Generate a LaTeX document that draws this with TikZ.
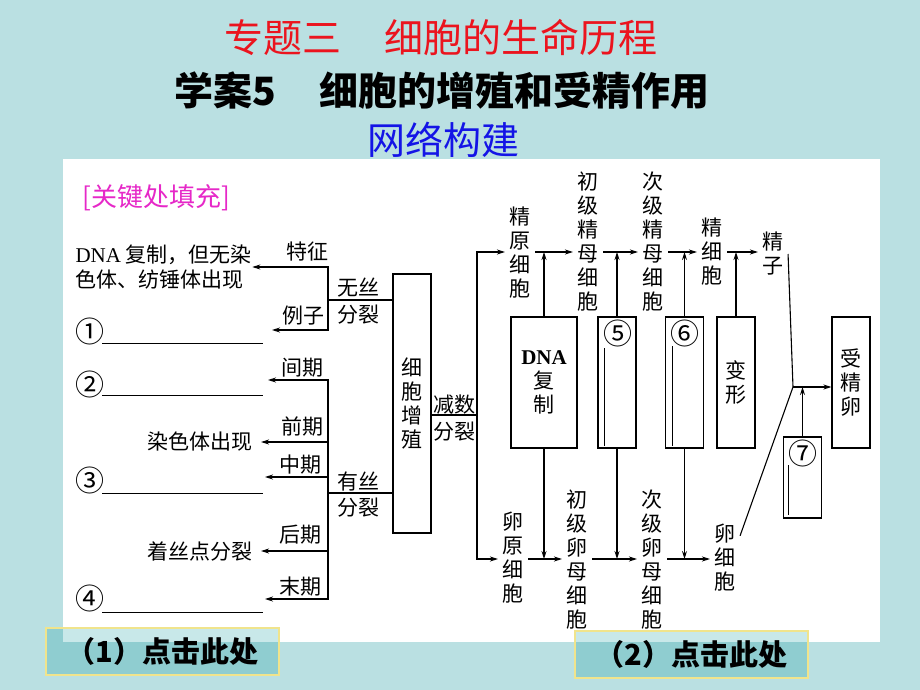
\documentclass[tikz,border=0pt]{standalone}
\usepackage{fontspec}
\setmainfont{Noto Sans CJK SC}
\newfontfamily\latinserif{Liberation Serif}
\usetikzlibrary{arrows.meta}
\definecolor{slidebg}{RGB}{186,224,226}
\definecolor{btnfill}{RGB}{143,205,208}
\definecolor{btnlight}{RGB}{200,232,233}
\definecolor{btnedge}{RGB}{240,228,140}
\definecolor{keypink}{RGB}{230,40,200}
\definecolor{titlered}{RGB}{235,20,30}
\definecolor{titleblue}{RGB}{20,20,230}
\newcommand{\dia}{\fontsize{21}{24}\selectfont}

\tikzset{
  txt/.style={inner sep=0pt, font=\dia, align=center},
  vtxt/.style={txt, inner xsep=4pt},
  circ/.style={inner sep=0pt, font=\fontsize{29}{29}\selectfont},
  cellbox/.style={draw, inner sep=0pt, font=\dia, align=center,
    minimum width=38pt, minimum height=131pt},
  btn/.style={draw=btnedge, line width=1.5pt, fill=btnfill,
    minimum width=233pt, minimum height=47pt,
    font=\fontsize{29}{30}\selectfont\bfseries,
    path picture={\fill[btnlight] (pb |- path picture bounding box.north)
      rectangle (path picture bounding box.east |- pb);}},
}

\begin{document}
\begin{tikzpicture}[x=1pt, y=-1pt, line width=1.1pt, >={Stealth[length=8pt,width=5pt]}]
    % slide and panel
    \fill[slidebg] (0,0) rectangle (920,690);
    \fill[white] (63,159) rectangle (880,642);
    \coordinate (pb) at (63,642);

    \node[text=titlered, font=\fontsize{39}{40}\selectfont] (ttl) at (441,38) {专题三\hspace{1.1em}细胞的生命历程};
    \node[font=\fontsize{39}{40}\selectfont\bfseries] (sub) at (442,91) {学案5\hspace{1.1em}细胞的增殖和受精作用};
    \node[text=titleblue, font=\fontsize{38}{40}\selectfont] (net) at (443,140) {网络构建};
    \node[text=keypink, font=\fontsize{26}{28}\selectfont, inner sep=0pt] (key) at (156,198) {[关键处填充]};

    % cell proliferation, left side
    \node[cellbox, minimum height=259pt] (prolif) at (412,403.5) {细\\胞\\增\\殖};
    \node[txt, anchor=west, align=left, font=\fontsize{21}{25}\selectfont] (feat) at (75,267)
      {{\latinserif DNA} 复制，但无染\\色体、纺锤体出现};
    \node[txt] (tz) at (307,252) {特征};
    \node[txt] (lz) at (303,316) {例子};
    \node[txt] (ws) at (358,288) {无丝};
    \node[txt] (wsf) at (358,315) {分裂};
    \node[txt] (jq) at (302,368) {间期};
    \node[txt] (qq) at (302,427) {前期};
    \node[txt] (zq) at (300,465) {中期};
    \node[txt] (ys) at (358,482) {有丝};
    \node[txt] (ysf) at (358,508) {分裂};
    \node[txt] (hq) at (300,535) {后期};
    \node[txt] (mq) at (300,587) {末期};
    \node[txt, inner xsep=8pt] (ranse) at (200,442) {染色体出现};
    \node[txt, inner xsep=8pt] (zsd) at (200,551) {着丝点分裂};
    \node[circ] (n1) at (90,331) {①};
    \node[circ] (n2) at (90,384) {②};
    \node[circ] (n3) at (90,480) {③};
    \node[circ] (n4) at (90,598) {④};
    \foreach \y in {343,395,493,612}
      \draw[line width=0.9pt] (102,\y) -- (263,\y);

    \coordinate (amj) at (328,300);
    \coordinate (mij) at (328,493);
    \coordinate (t1) at (272,330);
    \coordinate (t2) at (268,380);
    \coordinate (t4) at (265,477);
    \coordinate (t6) at (265,599);
    \draw (prolif.west |- amj) -- (amj);
    \draw[->] (amj) |- (feat.east);
    \draw[->] (amj) |- (t1);
    \draw (prolif.west |- mij) -- (mij);
    \foreach \t in {t2,ranse.east,t4,zsd.east,t6}
      \draw[->] (mij) |- (\t);

    % meiosis
    \node[txt] (js) at (454,405) {减数};
    \node[txt] (jsf) at (454,432) {分裂};
    \coordinate (mj) at (477,415);
    \coordinate (r1) at (0,252);
    \coordinate (r2) at (0,559);

    \node[vtxt] (sp1) at (520,253) {精\\原\\细\\胞};
    \node[vtxt] (sp2) at (588,242) {初\\级\\精\\母\\细\\胞};
    \node[vtxt] (sp3) at (653,242) {次\\级\\精\\母\\细\\胞};
    \node[vtxt] (sp4) at (712,252) {精\\细\\胞};
    \node[vtxt] (sp5) at (773,254) {精\\子};
    \node[vtxt] (eg1) at (513,558) {卵\\原\\细\\胞};
    \node[vtxt] (eg2) at (577,560) {初\\级\\卵\\母\\细\\胞};
    \node[vtxt] (eg3) at (652,560) {次\\级\\卵\\母\\细\\胞};
    \node[vtxt] (eg4) at (725,558) {卵\\细\\胞};

    \node[cellbox, minimum width=66pt] (dna) at (544,382.5) {{\latinserif\bfseries DNA}\\复\\制};
    \node[cellbox] (c5box) at (617,382.5) {};
    \node[cellbox] (c6box) at (684.5,382.5) {};
    \node[cellbox] (bx) at (736,382.5) {变\\形};
    \node[cellbox] (zyg) at (851,382.5) {受\\精\\卵};
    \node[cellbox, minimum height=81pt] (c7box) at (802.5,477.5) {};
    \node[circ] (c5) at (618,333) {⑤};
    \node[circ] (c6) at (685,333) {⑥};
    \node[circ] (c7) at (803,453) {⑦};
    \draw[line width=0.9pt] (604,348) -- (604,446);
    \draw[line width=0.9pt] (672,346) -- (672,446);
    \draw[line width=0.9pt] (788,465) -- (788,515);

    \draw (prolif.east |- mj) -- (mj);
    \draw[->] (mj) |- (sp1.west |- r1);
    \draw[->] (mj) |- (eg1.west |- r2);
    \foreach \a/\b in {sp1/sp2,sp2/sp3,sp3/sp4,sp4/sp5}
      \draw[->] (\a.east |- r1) -- (\b.west |- r1);
    \foreach \a/\b in {eg1/eg2,eg2/eg3,eg3/eg4}
      \draw[->] (\a.east |- r2) -- (\b.west |- r2);
    \foreach \b in {dna,c5box,c6box,bx}
      \draw[->] (\b.north) -- (\b.north |- r1);
    \foreach \b in {dna,c5box,c6box}
      \draw[->] (\b.south) -- (\b.south |- r2);

    % fertilization
    \coordinate (fj) at (793,387);
    \draw (sp5.east) -- (fj);
    \draw ([yshift=-12pt]eg4.north east) -- (fj);
    \draw[->] (fj) -- (zyg.west |- fj);
    \draw[->] (c7box.north) -- (c7box.north |- fj);

    \node[btn] (btn1) at (162.5,651.5) {（1）点击此处};
    \node[btn] (btn2) at (691.5,654.5) {（2）点击此处};
  \end{tikzpicture}
\end{document}
